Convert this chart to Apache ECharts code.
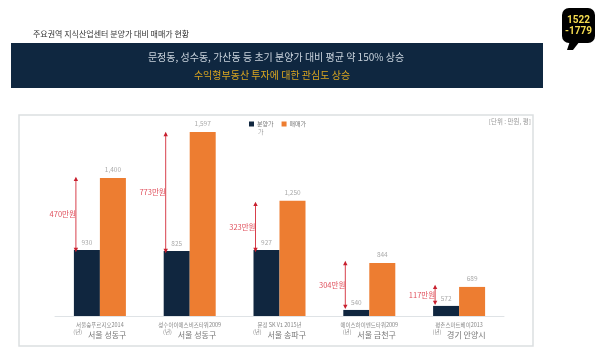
<!DOCTYPE html>
<html><head><meta charset="utf-8">
<style>html,body{margin:0;padding:0;background:#fff}#c{width:600px;height:359px}</style>
<script src="https://cdn.jsdelivr.net/npm/echarts@6/dist/echarts.min.js"></script>
</head><body><div id="c"></div>
<script>
const FONT = '"Noto Sans CJK KR","Noto Sans",sans-serif';
const projects = ['서울숲푸르지오2014', '성수아이에스비즈타워2009', '문정 SK V1 2015년', '에이스하이엔드타워2009', '평촌스마트베이2013'];
const districts = ['서울 성동구', '서울 성동구', '서울 송파구', '서울 금천구', '경기 안양시'];
// The source bars are not drawn to the scale of their printed numbers,
// so bar lengths are read from the picture and the printed numbers are kept apart.
const saleDrawn = [893, 887, 893, 536, 560];
const marketDrawn = [1321, 1595, 1185, 815, 673];
const salePrinted = ['930', '825', '927', '540', '572'];
const marketPrinted = ['1,400', '1,597', '1,250', '844', '689'];
const gapLabels = ['470만원', '773만원', '323만원', '304만원', '117만원'];
const gapLow = [893, 887, 893, 554, 578];
const gapHigh = [1316, 1583, 1167, 815, 673];

const red = '#d8404c';
const chart = echarts.init(document.getElementById('c'), null, {renderer: 'canvas'});
chart.setOption({
  animation: false,
  textStyle: {fontFamily: FONT},
  legend: {
    left: 244, top: 116, itemWidth: 5, itemHeight: 5, itemGap: 8, icon: 'rect',
    textStyle: {fontSize: 6, color: '#777', fontFamily: FONT, padding: [0, 0, 0, -2]},
    data: ['분양가', '매매가']
  },
  grid: {left: 55, right: 96, top: 116, bottom: 43},
  xAxis: {
    type: 'category', data: districts,
    axisLine: {lineStyle: {color: '#dfe3e6', width: 1}},
    axisTick: {show: false},
    axisLabel: {
      interval: 0, margin: 5, lineHeight: 9,
      formatter: (v, i) => `{a|${projects[i]}}\n{p|(년)}{c| ${v}}`,
      rich: {
        a: {fontSize: 5.5, color: '#888', fontFamily: FONT, lineHeight: 8},
        p: {fontSize: 5.5, color: '#888', fontFamily: FONT, verticalAlign: 'top', padding: [0, 4, 0, 0]},
        c: {fontSize: 8, color: '#777', fontFamily: FONT, lineHeight: 11}
      }
    }
  },
  yAxis: {type: 'value', min: 500, max: 1690, show: false, splitLine: {show: false}},
  series: [
    {
      name: '분양가', type: 'bar', data: saleDrawn, barWidth: 26, barGap: 0,
      itemStyle: {color: '#10263f'},
      label: {show: true, position: 'top', distance: 4, fontSize: 6.5, color: '#aaa', fontFamily: FONT,
        formatter: p => salePrinted[p.dataIndex]}
    },
    {
      name: '매매가', type: 'bar', data: marketDrawn, barWidth: 26,
      itemStyle: {color: '#ed7d31'},
      label: {show: true, position: 'top', distance: 5, fontSize: 6.5, color: '#aaa', fontFamily: FONT,
        formatter: p => marketPrinted[p.dataIndex]}
    },
    {
      type: 'custom', silent: true, z: 5,
      data: gapLabels.map((t, i) => [i, gapLow[i], gapHigh[i]]),
      encode: {x: 0, y: [1, 2]},
      renderItem: (params, api) => {
        const i = api.value(0);
        const x = api.coord([i, 0])[0] - 24;
        const lo = api.coord([i, api.value(1)])[1];
        const hi = api.coord([i, api.value(2)])[1];
        const s = 2.2;
        return {type: 'group', children: [
          {type: 'line', shape: {x1: x, y1: lo, x2: x, y2: hi}, style: {stroke: red, lineWidth: 1}},
          {type: 'polygon', shape: {points: [[x, hi - s], [x - s, hi + s], [x + s, hi + s]]}, style: {fill: '#c8202f'}},
          {type: 'polygon', shape: {points: [[x, lo + s], [x - s, lo - s], [x + s, lo - s]]}, style: {fill: '#c8202f'}},
          {type: 'text', style: {x: x, y: (lo + hi) / 2, text: gapLabels[params.dataIndex], align: 'right', verticalAlign: 'middle',
            fill: '#e0505c', fontSize: 7.5, fontFamily: FONT}}
        ]};
      }
    }
  ],
  graphic: [
    {type: 'rect', z: -1, shape: {x: 19, y: 115, width: 514, height: 231}, style: {fill: '#fff', stroke: '#dcdfe1', lineWidth: 1.5}},
    {type: 'text', style: {x: 33, y: 34, text: '주요권역 지식산업센터 분양가 대비 매매가 현황', verticalAlign: 'middle', fill: '#333', fontSize: 8, fontFamily: FONT}},
    {type: 'rect', shape: {x: 11, y: 43, width: 532, height: 45}, style: {fill: '#0f2740'}},
    {type: 'text', style: {x: 276, y: 57, text: '문정동, 성수동, 가산동 등 초기 분양가 대비 평균 약 150% 상승', align: 'center', verticalAlign: 'middle', fill: '#c9d3dc', fontSize: 10, fontFamily: FONT}},
    {type: 'text', style: {x: 272, y: 75, text: '수익형부동산 투자에 대한 관심도 상승', align: 'center', verticalAlign: 'middle', fill: '#d9a520', fontSize: 10, fontFamily: FONT}},
    {type: 'text', style: {x: 531, y: 122, text: '[단위 : 만원, 평]', align: 'right', verticalAlign: 'middle', fill: '#999', fontSize: 6.5, fontFamily: FONT}},
    {type: 'text', style: {x: 258, y: 132, text: '가', verticalAlign: 'middle', fill: '#999', fontSize: 6, fontFamily: FONT}},
    {type: 'rect', shape: {x: 562, y: 8, width: 33, height: 35, r: 7}, style: {fill: '#000'}},
    {type: 'polygon', shape: {points: [[570, 41], [580, 41], [573, 50], [567, 50]]}, style: {fill: '#000'}},
    {type: 'text', style: {x: 578.5, y: 20, text: '1522', align: 'center', verticalAlign: 'middle', fill: '#f5dc50', fontSize: 10, fontWeight: 'bold', fontFamily: 'Roboto'}},
    {type: 'text', style: {x: 578.5, y: 31, text: '-1779', align: 'center', verticalAlign: 'middle', fill: '#f5dc50', fontSize: 10, fontWeight: 'bold', fontFamily: 'Roboto'}}
  ]
});
</script></body></html>
